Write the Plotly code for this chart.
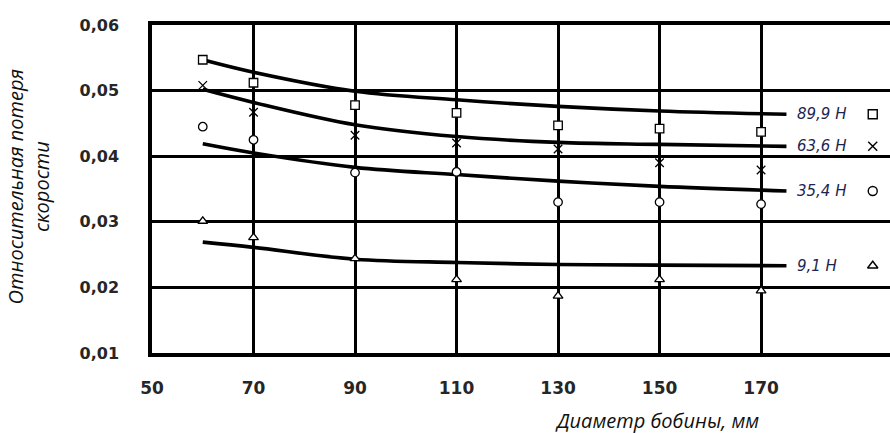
import plotly.graph_objects as go

# Bobbin diameter, mm
diam = [60, 70, 90, 110, 130, 150, 170]
# Measured relative speed loss for each tension
pts_899 = [0.0547, 0.0512, 0.0478, 0.0466, 0.0447, 0.0442, 0.0437]
pts_636 = [0.0508, 0.0467, 0.0432, 0.0420, 0.0411, 0.0390, 0.0379]
pts_354 = [0.0445, 0.0425, 0.0375, 0.0376, 0.0330, 0.0330, 0.0327]
pts_91 = [0.0301, 0.0276, 0.0244, 0.0212, 0.0187, 0.0212, 0.0195]

# Approximating curves
curve_x = [60, 70, 90, 110, 130, 150, 175]
fit_899 = [0.0547, 0.0528, 0.0499, 0.0486, 0.0476, 0.0469, 0.0464]
fit_636 = [0.0502, 0.0482, 0.0448, 0.0430, 0.0421, 0.0418, 0.0415]
fit_354 = [0.0419, 0.0405, 0.0383, 0.0372, 0.0362, 0.0354, 0.0347]
fit_91 = [0.0269, 0.0261, 0.0243, 0.0238, 0.0235, 0.0234, 0.0233]

labels = ["89,9 Н", "63,6 Н", "35,4 Н", "9,1 Н"]
symbols = ["square", "x-thin", "circle", "triangle-up"]

x_ticks = [50, 70, 90, 110, 130, 150, 170]
y_ticks = [0.01, 0.02, 0.03, 0.04, 0.05, 0.06]
y_ticktext = ["0,01", "0,02", "0,03", "0,04", "0,05", "0,06"]

fig = go.Figure()

fits = [fit_899, fit_636, fit_354, fit_91]
pts = [pts_899, pts_636, pts_354, pts_91]

for fit in fits:
    fig.add_trace(go.Scatter(
        x=curve_x, y=fit, mode="lines",
        line=dict(color="black", width=3.6, shape="spline", smoothing=1.0),
        hoverinfo="skip", showlegend=False,
    ))

for p, sym in zip(pts, symbols):
    fig.add_trace(go.Scatter(
        x=diam, y=p, mode="markers",
        marker=dict(symbol=sym, size=8.5, color="white",
                    line=dict(color="black", width=1.3)),
        showlegend=False,
    ))

# Series labels at the right end of each curve, followed by the marker key
label_x = 176.6
key_x = 192.0
for fit, lab, sym in zip(fits, labels, symbols):
    fig.add_annotation(
        x=label_x, y=fit[-1], text="<i>" + lab + "</i>", showarrow=False,
        xanchor="left", yanchor="middle",
        font=dict(family="DejaVu Sans", size=15, color="#1c2450"),
    )
    fig.add_trace(go.Scatter(
        x=[key_x], y=[fit[-1]], mode="markers",
        marker=dict(symbol=sym, size=9, color="white",
                    line=dict(color="black", width=1.4)),
        showlegend=False, cliponaxis=False,
    ))

# Italic axis titles
fig.add_annotation(
    xref="paper", yref="paper", x=0.684, y=-0.207,
    text="<i>Диаметр бобины, мм</i>", showarrow=False,
    xanchor="center", yanchor="middle",
    font=dict(family="Open Sans", size=20, color="#111"),
)
fig.add_annotation(
    xref="paper", yref="paper", x=-0.168, y=0.505,
    text="<i>Относительная потеря<br>скорости</i>", showarrow=False,
    textangle=-90, xanchor="center", yanchor="middle",
    font=dict(family="Open Sans", size=20, color="#111"),
)

fig.update_layout(
    width=890, height=433,
    margin=dict(l=152, r=0, t=25, b=80),
    plot_bgcolor="white", paper_bgcolor="white",
    showlegend=False,
)
fig.update_xaxes(
    range=[50, 195.4], tickvals=x_ticks, ticktext=[str(v) for v in x_ticks],
    showgrid=True, gridcolor="black", gridwidth=2.5,
    showline=True, linecolor="black", linewidth=3.5, mirror=True,
    ticks="", ticklabelstandoff=17, zeroline=False,
    tickfont=dict(family="DejaVu Sans", size=17, color="#262626", weight="bold"),
)
fig.update_yaxes(
    range=[0.01, 0.06], tickvals=y_ticks, ticktext=y_ticktext,
    showgrid=True, gridcolor="black", gridwidth=2.5,
    showline=True, linecolor="black", linewidth=3.5, mirror=False,
    ticks="", ticklabelstandoff=26, zeroline=False,
    tickfont=dict(family="DejaVu Sans", size=16, color="#262626", weight="bold"),
)

fig.write_html("out.html")
